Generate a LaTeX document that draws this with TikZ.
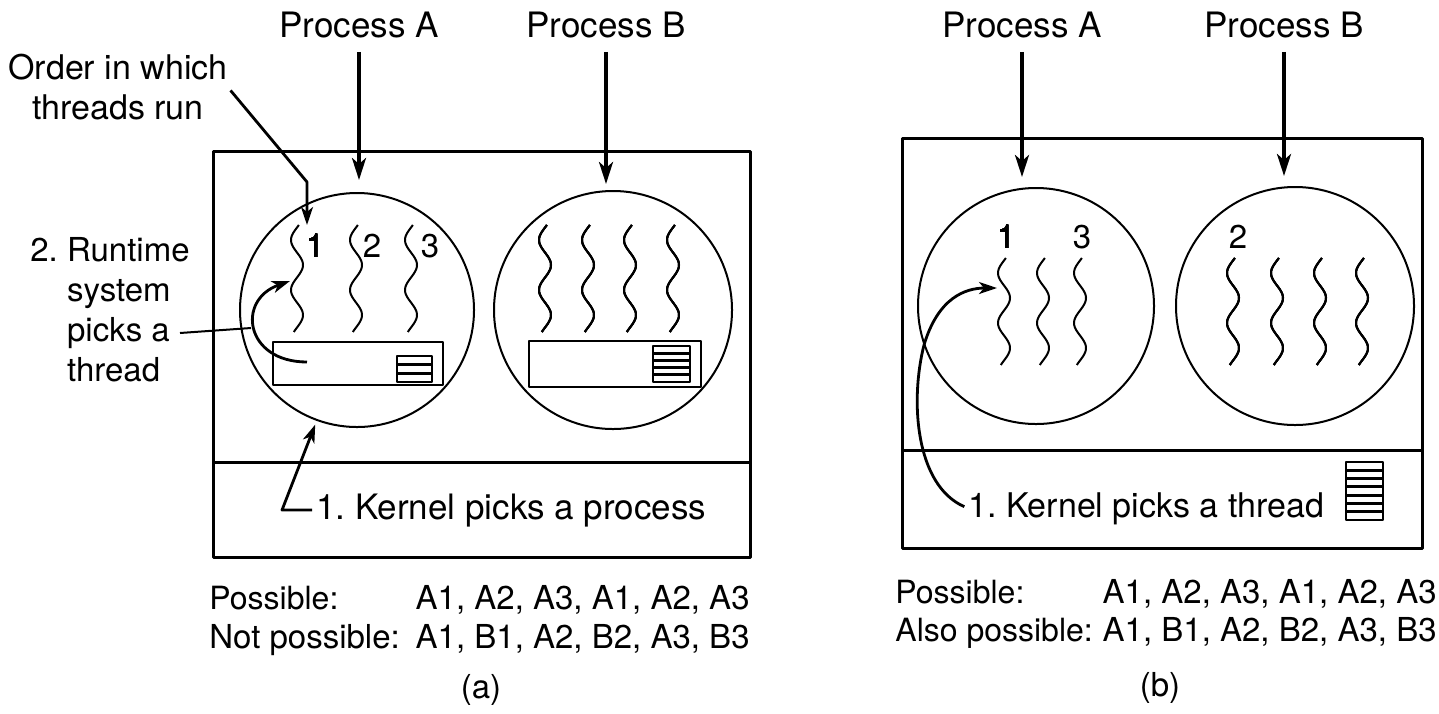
\documentclass[tikz,border=0pt]{standalone}
\usepackage{fontspec}
\setmainfont{TeX Gyre Heros}
\usetikzlibrary{arrows.meta}
\tikzset{
  frame/.style={draw, line width=1.5pt},
  proc/.style={circle, draw, line width=1pt, inner sep=0pt, minimum size=#1},
  txt/.style={inner sep=0pt, font=\fontsize{#1}{20}\selectfont},
  txt/.default=16.5,
  feed/.style={-{Stealth[length=11pt,width=7pt,inset=3pt]}, line width=1.8pt},
  pick/.style={-{Stealth[length=9pt,width=6pt,inset=2.5pt]}, line width=1.4pt},
  thr/.style={line width=1pt, variable=\s, domain=0:107, samples=60, smooth},
}
% wavy thread: centre x, top y
\newcommand{\thread}[2]{\draw[thr] plot ({#1-6*cos(7.2*(\s-15))},{#2+\s});}
% small table icon: corners and number of rows
\newcommand{\rowbox}[5]{%
  \draw[line width=1.4pt] (#1,#2) rectangle (#3,#4);
  \pgfmathtruncatemacro\rb{#5-1}
  \foreach \k in {1,...,\rb}
    \draw[line width=1.4pt] (#1,{#2+(#4-#2)*\k/#5}) -- (#3,{#2+(#4-#2)*\k/#5});
}
\begin{document}
\begin{tikzpicture}[x=0.5pt,y=-0.5pt,line join=round]
\useasboundingbox (0,0) rectangle (1439,713);

%% (a) user-level threads
\draw[frame] (213,151) rectangle (750,557);
\draw[frame] (213,462) -- (750,462);
\node[proc=117pt] (procA) at (357,310) {};
\node[proc=119pt] (procB) at (613,310) {};
\foreach \x in {297,356,411} \thread{\x}{225}
\foreach \x in {545,588,630,673} \thread{\x}{225}
\node[txt,anchor=base] (nA1) at (315,257) {1};
\node[txt,anchor=base] (nA2) at (372,257) {2};
\node[txt,anchor=base] (nA3) at (430,257) {3};
\draw[line width=1.3pt] (273,342) rectangle (443,385);
\rowbox{397}{356}{432}{382}{3}
\draw[line width=1.3pt] (529,341) rectangle (701,387);
\rowbox{653}{346}{690}{382}{5}

\node[txt=17.5,anchor=base] (pA) at (359,37) {Process A};
\node[txt=17.5,anchor=base] (pB) at (606,37) {Process B};
\draw[feed,shorten <=7pt,shorten >=6pt] (pA.south) -- (pA.south |- procA.north);
\draw[feed,shorten <=7pt,shorten >=3pt] (pB.south) -- (pB.south |- procB.north);

\node[txt=17,align=center,anchor=north] (order) at (118,54) {Order in which\\threads run};
\coordinate (obend) at (307,182);
\coordinate (otip) at (307,225);
\draw[pick,shorten <=2pt] (order.east) -- (obend) -- (otip);

\node[txt,align=left,anchor=north west] (runtime) at (30,237)
  {2.~Runtime\\\hphantom{2.~}system\\\hphantom{2.~}picks a\\\hphantom{2.~}thread};
\coordinate (rs) at (307,362);
\coordinate (re) at (290,281);
\draw[pick] (rs) .. controls (245,362) and (236,300) .. (re);
\coordinate (pk) at (180,333);
\coordinate (rt) at (251,328);
\draw[line width=1pt] (pk) -- (rt);

\node[txt=17.5,anchor=base west] (kproc) at (316,519) {1.~Kernel picks a process};
\draw[pick,shorten <=2pt,shorten >=2pt] (kproc.west) -- ++(-34,0) -- (procA.250);

\node[txt=16,anchor=base west] (posA) at (209,609) {Possible:};
\node[txt,anchor=base east] (seqA) at (750,609) {A1, A2, A3, A1, A2, A3};
\node[txt=16.5,anchor=base west] (notA) at (209,648) {Not possible:};
\node[txt,anchor=base east] (seqA2) at (750,648) {A1, B1, A2, B2, A3, B3};
\node[txt] (capa) at (481,690) {(a)};

%% (b) kernel-level threads
\draw[frame] (902,138) rectangle (1422,548);
\draw[frame] (902,450) -- (1422,450);
\node[proc=118pt] (rA) at (1036,306) {};
\node[proc=119pt] (rB) at (1295,306) {};
\foreach \x in {1004,1043,1080} \thread{\x}{258}
\foreach \x in {1233,1277,1320,1362} \thread{\x}{258}
\node[txt,anchor=base] (nB1) at (1006,248) {1};
\node[txt,anchor=base] (nB3) at (1082,248) {3};
\node[txt,anchor=base] (nB2) at (1238,248) {2};
\rowbox{1346}{462}{1383}{520}{7}

\node[txt=17.5,anchor=base] (qA) at (1022,37) {Process A};
\node[txt=17.5,anchor=base] (qB) at (1284,37) {Process B};
\draw[feed,shorten <=7pt,shorten >=5pt] (qA.south) -- (qA.south |- rA.north);
\draw[feed,shorten <=7pt,shorten >=5pt] (qB.south) -- (qB.south |- rB.north);

\node[txt=17,anchor=base west] (kthr) at (968,517) {1.~Kernel picks a thread};
\coordinate (kmid) at (924,345);
\coordinate (ktip) at (997,288);
\draw[pick,shorten <=2pt] (kthr.west) .. controls (915,485) and (910,400) .. (kmid)
  .. controls (938,298) and (965,288) .. (ktip);

\node[txt=16,anchor=base west] (posB) at (895,603) {Possible:};
\node[txt,anchor=base east] (seqB) at (1437,603) {A1, A2, A3, A1, A2, A3};
\node[txt=16,anchor=base west] (alsoB) at (895,641) {Also possible:};
\node[txt,anchor=base east] (seqB2) at (1437,641) {A1, B1, A2, B2, A3, B3};
\node[txt] (capb) at (1160,688) {(b)};
\end{tikzpicture}
\end{document}
